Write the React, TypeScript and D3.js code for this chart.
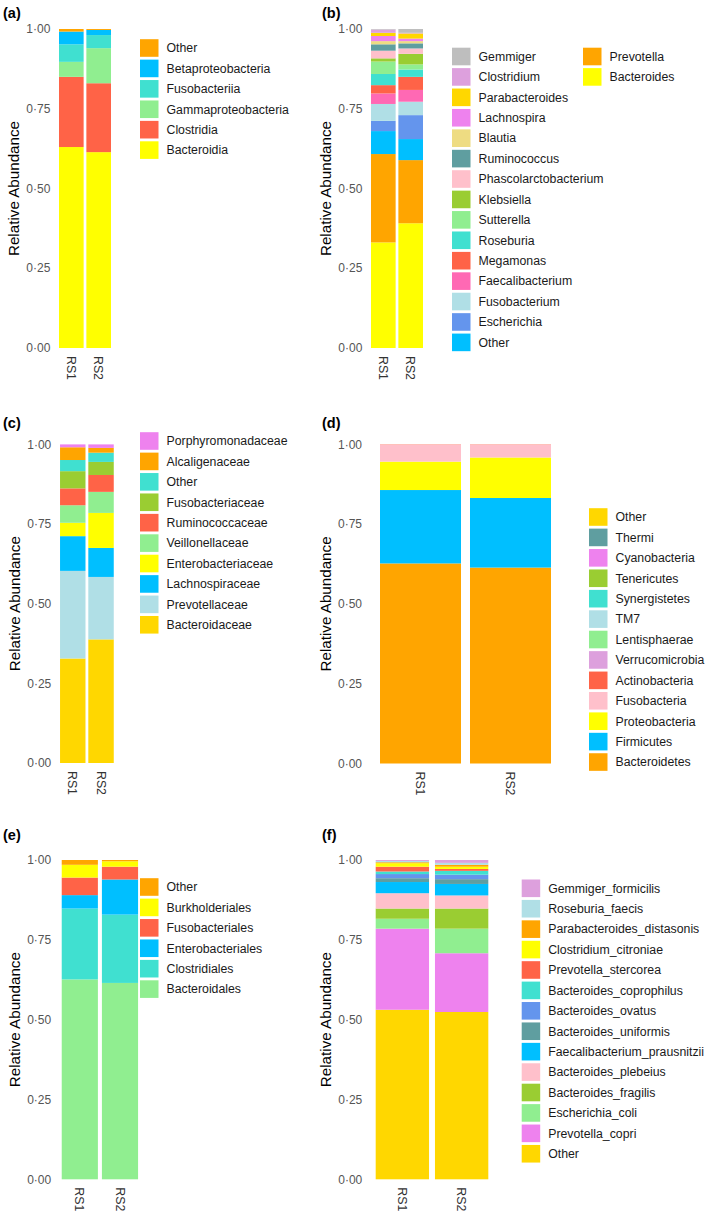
import React from "react";
import * as d3 from "d3";

const samples = ["RS1", "RS2"];
const yTicks = [0, 0.25, 0.5, 0.75, 1];

// (a) class level — stack order bottom → top
const classTaxa = ["Bacteroidia", "Clostridia", "Gammaproteobacteria", "Fusobacteriia", "Betaproteobacteria", "Other"];
const classColors = ["#FFFF00", "#FF6347", "#90EE90", "#40E0D0", "#00BFFF", "#FFA500"];
const classRS1 = [0.630, 0.220, 0.047, 0.055, 0.040, 0.008];
const classRS2 = [0.614, 0.216, 0.110, 0.041, 0.016, 0.003];

// (b) genus level
const genusTaxa = ["Bacteroides", "Prevotella", "Other", "Escherichia", "Fusobacterium", "Faecalibacterium", "Megamonas", "Roseburia", "Sutterella", "Klebsiella", "Phascolarctobacterium", "Ruminococcus", "Blautia", "Lachnospira", "Parabacteroides", "Clostridium", "Gemmiger"];
const genusColors = ["#FFFF00", "#FFA500", "#00BFFF", "#6495ED", "#B0DFE6", "#FF69B4", "#FF6347", "#40E0D0", "#90EE90", "#9ACD32", "#FFC0CB", "#5F9EA0", "#EEDC82", "#EE82EE", "#FFD700", "#DDA0DD", "#BEBEBE"];
const genusRS1 = [0.331, 0.277, 0.072, 0.032, 0.053, 0.033, 0.026, 0.035, 0.039, 0.010, 0.024, 0.020, 0.010, 0.016, 0.010, 0.010, 0.002];
const genusRS2 = [0.391, 0.198, 0.066, 0.075, 0.042, 0.037, 0.041, 0.023, 0.016, 0.033, 0.017, 0.016, 0.007, 0.008, 0.016, 0.002, 0.012];

// (c) family level
const familyTaxa = ["Bacteroidaceae", "Prevotellaceae", "Lachnospiraceae", "Enterobacteriaceae", "Veillonellaceae", "Ruminococcaceae", "Fusobacteriaceae", "Other", "Alcaligenaceae", "Porphyromonadaceae"];
const familyColors = ["#FFD700", "#B0DFE6", "#00BFFF", "#FFFF00", "#90EE90", "#FF6347", "#9ACD32", "#40E0D0", "#FFA500", "#EE82EE"];
const familyRS1 = [0.328, 0.275, 0.109, 0.042, 0.055, 0.053, 0.054, 0.035, 0.040, 0.009];
const familyRS2 = [0.388, 0.196, 0.091, 0.110, 0.066, 0.053, 0.041, 0.029, 0.015, 0.011];

// (d) phylum level
const phylumTaxa = ["Bacteroidetes", "Firmicutes", "Proteobacteria", "Fusobacteria", "Actinobacteria", "Verrucomicrobia", "Lentisphaerae", "TM7", "Synergistetes", "Tenericutes", "Cyanobacteria", "Thermi", "Other"];
const phylumColors = ["#FFA500", "#00BFFF", "#FFFF00", "#FFC0CB", "#FF6347", "#DDA0DD", "#90EE90", "#B0DFE6", "#40E0D0", "#9ACD32", "#EE82EE", "#5F9EA0", "#FFD700"];
const phylumRS1 = [0.627, 0.230, 0.089, 0.053, 0.001, 0, 0, 0, 0, 0, 0, 0, 0];
const phylumRS2 = [0.614, 0.218, 0.127, 0.040, 0.001, 0, 0, 0, 0, 0, 0, 0, 0];

// (e) order level
const orderTaxa = ["Bacteroidales", "Clostridiales", "Enterobacteriales", "Fusobacteriales", "Burkholderiales", "Other"];
const orderColors = ["#90EE90", "#40E0D0", "#00BFFF", "#FF6347", "#FFFF00", "#FFA500"];
const orderRS1 = [0.626, 0.222, 0.042, 0.055, 0.040, 0.015];
const orderRS2 = [0.615, 0.214, 0.110, 0.040, 0.017, 0.004];

// (f) species level
const speciesTaxa = ["Other", "Prevotella_copri", "Escherichia_coli", "Bacteroides_fragilis", "Bacteroides_plebeius", "Faecalibacterium_prausnitzii", "Bacteroides_uniformis", "Bacteroides_ovatus", "Bacteroides_coprophilus", "Prevotella_stercorea", "Clostridium_citroniae", "Parabacteroides_distasonis", "Roseburia_faecis", "Gemmiger_formicilis"];
const speciesColors = ["#FFD700", "#EE82EE", "#90EE90", "#9ACD32", "#FFC0CB", "#00BFFF", "#5F9EA0", "#6495ED", "#40E0D0", "#FF6347", "#FFFF00", "#FFA500", "#B0DFE6", "#DDA0DD"];
const speciesRS1 = [0.531, 0.254, 0.031, 0.032, 0.048, 0.035, 0.012, 0.013, 0.008, 0.015, 0.011, 0.003, 0.004, 0.003];
const speciesRS2 = [0.524, 0.184, 0.077, 0.063, 0.041, 0.036, 0.015, 0.014, 0.012, 0.006, 0.007, 0.006, 0.006, 0.009];

const FONT = "'Liberation Sans', Arial, Helvetica, sans-serif";

type PanelProps = {
  label: string;
  taxa: string[];
  colors: string[];
  rs1: number[];
  rs2: number[];
  x0: number;
  x1: number;
  yTop: number;
  yBot: number;
  labelX: number;
  labelY: number;
  legendX: number[];
  legendY: number;
  perCol: number;
};

const PITCH = 20.42;

function Panel(p: PanelProps) {
  const x = d3.scaleBand<string>().domain(samples).range([p.x0, p.x1]).paddingInner(0.1).paddingOuter(0.15);
  const y = d3.scaleLinear().domain([0, 1]).range([p.yBot, p.yTop]);
  const rows = samples.map((s, i) => {
    const o: Record<string, any> = { sample: s };
    p.taxa.forEach((t, j) => (o[t] = (i === 0 ? p.rs1 : p.rs2)[j]));
    return o;
  });
  const series = d3.stack<Record<string, any>>().keys(p.taxa)(rows);
  const color = d3.scaleOrdinal<string, string>().domain(p.taxa).range(p.colors);
  const legendItems = [...p.taxa].reverse();
  const midY = (p.yTop + p.yBot) / 2;
  return (
    <g>
      <text x={p.labelX} y={p.labelY} fontSize={14.5} fontWeight="bold" fill="#000">{p.label}</text>
      {series.map((s) => (
        <g key={s.key} fill={color(s.key)}>
          {s.map((d, i) => {
            const h = y(d[0]) - y(d[1]);
            if (h <= 0) return null;
            return (
              <rect key={i} x={x(samples[i])} y={y(d[1])} width={x.bandwidth()} height={h} />
            );
          })}
        </g>
      ))}
      {yTicks.map((t) => (
        <text key={t} x={p.x0 - 4.5} y={y(t)} dy="0.35em" textAnchor="end" fontSize={12} fill="#555">
          {d3.format(".2f")(t).replace(".", "·")}
        </text>
      ))}
      <text transform={`translate(${p.x0 - 36},${midY}) rotate(-90)`} textAnchor="middle" fontSize={15.2} fill="#000">
        Relative Abundance
      </text>
      {samples.map((s) => (
        <text key={s} transform={`translate(${(x(s) as number) + x.bandwidth() / 2},${p.yBot + 8}) rotate(90)`} dy="0.35em" fontSize={12.3} fill="#333">
          {s}
        </text>
      ))}
      {legendItems.map((t, i) => {
        const col = Math.floor(i / p.perCol);
        const row = i % p.perCol;
        const cy = p.legendY + row * PITCH;
        const lx = p.legendX[col];
        return (
          <g key={t}>
            <rect x={lx} y={cy - 8.8} width={18.5} height={17.6} fill={color(t)} />
            <text x={lx + 26.5} y={cy} dy="0.35em" fontSize={12.3} fill="#1a1a1a">{t}</text>
          </g>
        );
      })}
    </g>
  );
}

export default function App() {
  return (
    <svg width={709} height={1216} style={{ position: "absolute", left: 0, top: 0, background: "#fff" }} fontFamily={FONT}>
      <rect width={709} height={1216} fill="#fff" />
      <Panel label="(a)" taxa={classTaxa} colors={classColors} rs1={classRS1} rs2={classRS2}
        x0={54.9} x1={115.1} yTop={29} yBot={348} labelX={3} labelY={17.5} legendX={[140]} legendY={48} perCol={20} />
      <Panel label="(b)" taxa={genusTaxa} colors={genusColors} rs1={genusRS1} rs2={genusRS2}
        x0={366.9} x1={427.1} yTop={29} yBot={348} labelX={322} labelY={17.5} legendX={[452, 583]} legendY={56.5} perCol={15} />
      <Panel label="(c)" taxa={familyTaxa} colors={familyColors} rs1={familyRS1} rs2={familyRS2}
        x0={55.8} x1={118} yTop={444.4} yBot={763} labelX={3} labelY={428} legendX={[140]} legendY={441} perCol={20} />
      <Panel label="(d)" taxa={phylumTaxa} colors={phylumColors} rs1={phylumRS1} rs2={phylumRS2}
        x0={366.5} x1={564.5} yTop={444.4} yBot={763.5} labelX={322} labelY={428} legendX={[589]} legendY={517} perCol={20} />
      <Panel label="(e)" taxa={orderTaxa} colors={orderColors} rs1={orderRS1} rs2={orderRS2}
        x0={55.7} x1={144.1} yTop={860} yBot={1179.3} labelX={3} labelY={840} legendX={[140]} legendY={887} perCol={20} />
      <Panel label="(f)" taxa={speciesTaxa} colors={speciesColors} rs1={speciesRS1} rs2={speciesRS2}
        x0={366.8} x1={497.2} yTop={860} yBot={1179.3} labelX={322} labelY={840} legendX={[521.7]} legendY={888.3} perCol={20} />
    </svg>
  );
}
